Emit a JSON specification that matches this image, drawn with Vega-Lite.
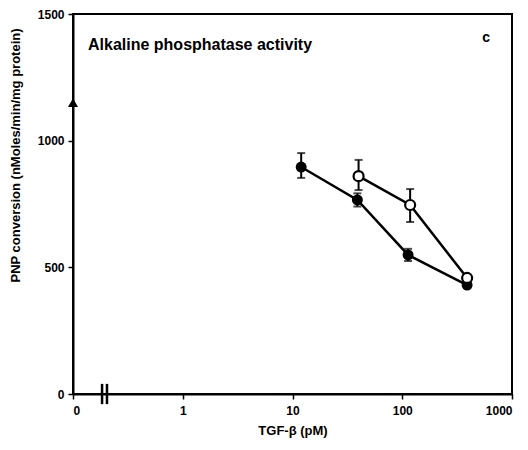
{
  "$schema": "https://vega.github.io/schema/vega-lite/v6.json",
  "width": 439,
  "height": 380,
  "autosize": {"type": "none"},
  "padding": {"left": 73, "top": 14, "right": 16, "bottom": 56},
  "background": "white",
  "config": {
    "view": {"stroke": "black", "strokeWidth": 2},
    "font": "Liberation Sans",
    "axis": {
      "grid": false,
      "domainColor": "black",
      "domainWidth": 2,
      "tickColor": "black",
      "tickWidth": 1.5,
      "tickSize": 5,
      "labelFont": "Liberation Sans",
      "labelFontWeight": "bold",
      "labelFontSize": 12,
      "labelColor": "black",
      "titleFont": "Liberation Sans",
      "titleFontWeight": "bold",
      "titleFontSize": 13,
      "titleColor": "black"
    }
  },
  "datasets": {
    "pts": [
      {"series": "filled", "dose": 12, "value": 896, "lo": 853, "hi": 951},
      {"series": "filled", "dose": 39, "value": 766, "lo": 740, "hi": 792},
      {"series": "filled", "dose": 113, "value": 549, "lo": 525, "hi": 573},
      {"series": "filled", "dose": 390, "value": 430, "lo": 420, "hi": 440},
      {"series": "open", "dose": 40, "value": 860, "lo": 805, "hi": 924},
      {"series": "open", "dose": 118, "value": 746, "lo": 679, "hi": 809},
      {"series": "open", "dose": 390, "value": 458, "lo": 450, "hi": 466}
    ],
    "ctrl": [{"dose": 0.1, "value": 1150}],
    "brk": [
      {"x": 0.184, "lo": -40, "hi": 40},
      {"x": 0.204, "lo": -40, "hi": 40}
    ],
    "labels": [
      {"x": 0.137, "y": 1378, "text": "Alkaline phosphatase activity", "kind": "title"},
      {"x": 580, "y": 1405, "text": "c", "kind": "panel"}
    ]
  },
  "layer": [
    {
      "data": {"name": "pts"},
      "transform": [{"filter": "datum.series === 'filled'"}],
      "mark": {"type": "line", "color": "black", "strokeWidth": 2.5},
      "encoding": {
        "x": {
          "field": "dose", "type": "quantitative",
          "scale": {"type": "log", "domain": [0.1, 1000], "nice": false},
          "axis": {
            "values": [0.1, 1, 10, 100, 1000],
            "labelExpr": "datum.value < 0.5 ? '0' : format(datum.value, 'd')",
            "labelPadding": 6,
            "title": "TGF-β (pM)",
            "titlePadding": 8
          }
        },
        "y": {
          "field": "value", "type": "quantitative",
          "scale": {"domain": [0, 1500], "nice": false},
          "axis": {
            "values": [0, 500, 1000, 1500],
            "format": "d",
            "labelPadding": 4,
            "title": "PNP conversion (nMoles/min/mg protein)",
            "titleAngle": -90,
            "titleAlign": "center",
            "titleBaseline": "middle",
            "titleX": -58,
            "titleY": 141
          }
        }
      }
    },
    {
      "data": {"name": "pts"},
      "transform": [{"filter": "datum.series === 'open'"}],
      "mark": {"type": "line", "color": "black", "strokeWidth": 2.5},
      "encoding": {
        "x": {"field": "dose", "type": "quantitative"},
        "y": {"field": "value", "type": "quantitative"}
      }
    },
    {
      "data": {"name": "pts"},
      "mark": {"type": "rule", "color": "black", "strokeWidth": 2},
      "encoding": {
        "x": {"field": "dose", "type": "quantitative"},
        "y": {"field": "lo", "type": "quantitative"},
        "y2": {"field": "hi"}
      }
    },
    {
      "data": {"name": "pts"},
      "mark": {"type": "tick", "orient": "horizontal", "color": "black", "thickness": 2, "size": 8},
      "encoding": {
        "x": {"field": "dose", "type": "quantitative"},
        "y": {"field": "hi", "type": "quantitative"}
      }
    },
    {
      "data": {"name": "pts"},
      "mark": {"type": "tick", "orient": "horizontal", "color": "black", "thickness": 2, "size": 8},
      "encoding": {
        "x": {"field": "dose", "type": "quantitative"},
        "y": {"field": "lo", "type": "quantitative"}
      }
    },
    {
      "data": {"name": "pts"},
      "transform": [{"filter": "datum.series === 'filled'"}],
      "mark": {"type": "point", "shape": "circle", "filled": true, "color": "black", "size": 120, "opacity": 1},
      "encoding": {
        "x": {"field": "dose", "type": "quantitative"},
        "y": {"field": "value", "type": "quantitative"}
      }
    },
    {
      "data": {"name": "pts"},
      "transform": [{"filter": "datum.series === 'open'"}],
      "mark": {"type": "point", "shape": "circle", "filled": true, "fill": "white", "stroke": "black", "strokeWidth": 2.2, "size": 100, "opacity": 1},
      "encoding": {
        "x": {"field": "dose", "type": "quantitative"},
        "y": {"field": "value", "type": "quantitative"}
      }
    },
    {
      "data": {"name": "ctrl"},
      "mark": {"type": "point", "shape": "triangle-up", "filled": true, "color": "black", "size": 100, "opacity": 1, "clip": false},
      "encoding": {
        "x": {"field": "dose", "type": "quantitative"},
        "y": {"field": "value", "type": "quantitative"}
      }
    },
    {
      "data": {"name": "brk"},
      "mark": {"type": "rule", "color": "black", "strokeWidth": 2.5, "clip": false},
      "encoding": {
        "x": {"field": "x", "type": "quantitative"},
        "y": {"field": "lo", "type": "quantitative"},
        "y2": {"field": "hi"}
      }
    },
    {
      "data": {"name": "labels"},
      "transform": [{"filter": "datum.kind === 'title'"}],
      "mark": {"type": "text", "align": "left", "baseline": "middle", "font": "Liberation Sans", "fontSize": 16, "fontWeight": "bold", "color": "black"},
      "encoding": {
        "x": {"field": "x", "type": "quantitative"},
        "y": {"field": "y", "type": "quantitative"},
        "text": {"field": "text"}
      }
    },
    {
      "data": {"name": "labels"},
      "transform": [{"filter": "datum.kind === 'panel'"}],
      "mark": {"type": "text", "align": "center", "baseline": "middle", "font": "Liberation Sans", "fontSize": 14, "fontWeight": "bold", "color": "black"},
      "encoding": {
        "x": {"field": "x", "type": "quantitative"},
        "y": {"field": "y", "type": "quantitative"},
        "text": {"field": "text"}
      }
    }
  ]
}
